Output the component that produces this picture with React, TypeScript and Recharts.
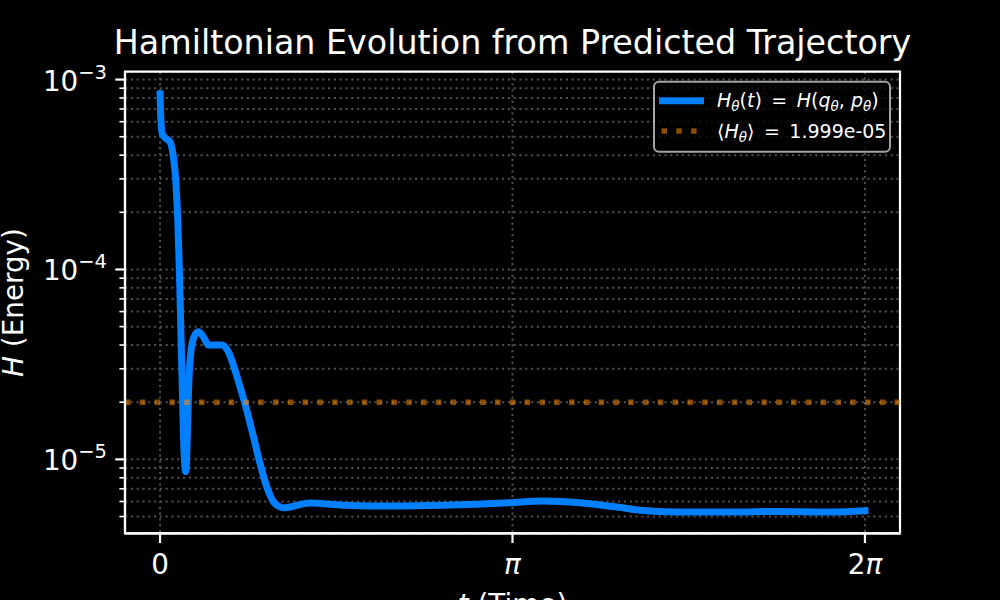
import React from 'react';
import {
  LineChart,
  Line,
  XAxis,
  YAxis,
  CartesianGrid,
  ReferenceLine,
  ReferenceArea,
  Customized,
} from 'recharts';

// ---- data ----
const timeValues = [
  0, 0.006, 0.021, 0.053, 0.089, 0.119, 0.14, 0.158, 0.172, 0.187, 0.202, 0.214,
  0.229, 0.243, 0.255, 0.273, 0.303, 0.341, 0.386, 0.431, 0.49, 0.55, 0.609, 0.668,
  0.713, 0.772, 0.832, 0.891, 0.951, 1.01, 1.07, 1.1, 1.337, 1.634, 2.079, 2.525,
  2.823, 3.119, 3.416, 3.743, 4.04, 4.338, 4.635, 5.08, 5.526, 5.971, 6.283,
];
const energyValues = [
  8.4e-4, 6.4e-4, 5.15e-4, 4.89e-4, 4.7e-4, 3.92e-4, 2.95e-4, 1.82e-4, 1.0e-4, 4.42e-5,
  1.97e-5, 1.08e-5, 8.61e-6, 1.32e-5, 2.41e-5, 3.61e-5, 4.42e-5, 4.7e-5, 4.42e-5, 4.0e-5,
  4.0e-5, 4.0e-5, 3.68e-5, 2.95e-5, 2.41e-5, 1.82e-5, 1.32e-5, 9.53e-6, 7.18e-6, 5.98e-6,
  5.62e-6, 5.56e-6, 5.9e-6, 5.74e-6, 5.68e-6, 5.73e-6, 5.8e-6, 5.91e-6, 6.04e-6, 5.91e-6,
  5.64e-6, 5.36e-6, 5.28e-6, 5.28e-6, 5.32e-6, 5.28e-6, 5.36e-6,
];
const meanEnergy = 1.999e-5;
const meanLabel = '1.999e-05';

const xTicks = [0, Math.PI, 2 * Math.PI];
const xTickLabels = [
  [{ t: '0', it: false }],
  [{ t: 'π', it: true }],
  [
    { t: '2', it: false },
    { t: 'π', it: true },
  ],
];
const yMajorTicks = [1e-5, 1e-4, 1e-3];
const yMajorExponents = ['−5', '−4', '−3'];
const yMinorTicks = [
  5e-6, 6e-6, 7e-6, 8e-6, 9e-6,
  2e-5, 3e-5, 4e-5, 5e-5, 6e-5, 7e-5, 8e-5, 9e-5,
  2e-4, 3e-4, 4e-4, 5e-4, 6e-4, 7e-4, 8e-4, 9e-4,
];
const xDomain = [-0.3124, 6.5956];
const yDomain = [4.08e-6, 1.1e-3];

const data = timeValues.map((t, i) => ({ t, H: energyValues[i] }));

// ---- styles ----
const FONT = '"DejaVu Sans", sans-serif';
const BLUE = '#007fff';
const ORANGE = '#ff8c00';
const GRID = '#4d4d4d';
const WHITE = '#ffffff';

const isMajor = (v: number) => yMajorTicks.findIndex((m) => Math.abs(m - v) / m < 1e-6);

const YTick = (props: any) => {
  const { x, y, payload } = props;
  const idx = isMajor(payload.value);
  if (idx >= 0) {
    return (
      <g>
        <line x1={x - 9.7} x2={x} y1={y} y2={y} stroke={WHITE} strokeWidth={2.2} />
        <text x={x - 18} y={y + 11} textAnchor="end" fill={WHITE} fontFamily={FONT} fontSize={27.8}>
          <tspan>10</tspan>
          <tspan dy={-12} fontSize={19.5}>
            {yMajorExponents[idx]}
          </tspan>
        </text>
      </g>
    );
  }
  return <line x1={x - 5.6} x2={x} y1={y} y2={y} stroke={WHITE} strokeWidth={1.6} />;
};

const XTick = (props: any) => {
  const { x, y, payload, index } = props;
  let i = xTicks.findIndex((v) => Math.abs(v - payload.value) < 1e-6);
  if (i < 0) i = index;
  const parts = xTickLabels[i] || [];
  return (
    <text x={x} y={y + 31} textAnchor="middle" fill={WHITE} fontFamily={FONT} fontSize={27.8}>
      {parts.map((p, k) => (
        <tspan key={k} fontStyle={p.it ? 'italic' : 'normal'}>
          {p.t}
        </tspan>
      ))}
    </text>
  );
};

const Overlay = () => {
  const lx = 654;
  const ly = 81.7;
  return (
    <g fontFamily={FONT}>
      <text x={512.5} y={54.3} textAnchor="middle" fill={WHITE} fontSize={33.3}>
        Hamiltonian Evolution from Predicted Trajectory
      </text>
      <text
        transform="translate(22.5, 302.5) rotate(-90)"
        textAnchor="middle"
        fill={WHITE}
        fontSize={27.8}
      >
        <tspan fontStyle="italic">H</tspan>
        <tspan> (Energy)</tspan>
      </text>
      <text x={512.5} y={614} textAnchor="middle" fill={WHITE} fontSize={27.8}>
        <tspan fontStyle="italic">t</tspan>
        <tspan> (Time)</tspan>
      </text>
      {/* legend */}
      <rect
        x={lx}
        y={ly}
        width={236}
        height={70}
        rx={5}
        ry={5}
        fill="rgba(0,0,0,0.8)"
        stroke="#cccccc"
        strokeOpacity={0.8}
        strokeWidth={2}
      />
      <line x1={659} x2={704} y1={100.7} y2={100.7} stroke={BLUE} strokeWidth={7} />
      <text x={717} y={107} fill={WHITE} fontSize={19}>
        <tspan fontStyle="italic">H</tspan>
        <tspan fontStyle="italic" fontSize={13.5} dy={4}>θ</tspan>
        <tspan dy={-4}>(</tspan>
        <tspan fontStyle="italic">t</tspan>
        <tspan>){'\u2002'}={'\u2002'}</tspan>
        <tspan fontStyle="italic">H</tspan>
        <tspan>(</tspan>
        <tspan fontStyle="italic">q</tspan>
        <tspan fontStyle="italic" fontSize={13.5} dy={4}>θ</tspan>
        <tspan dy={-4}>, </tspan>
        <tspan fontStyle="italic">p</tspan>
        <tspan fontStyle="italic" fontSize={13.5} dy={4}>θ</tspan>
        <tspan dy={-4}>)</tspan>
      </text>
      <line
        x1={661.5}
        x2={704}
        y1={131}
        y2={131}
        stroke={ORANGE}
        strokeOpacity={0.55}
        strokeWidth={5.5}
        strokeDasharray="5.5 9.3"
      />
      <text x={717} y={137.5} fill={WHITE} fontSize={19}>
        <tspan>⟨</tspan>
        <tspan fontStyle="italic">H</tspan>
        <tspan fontStyle="italic" fontSize={13.5} dy={4}>θ</tspan>
        <tspan dy={-4}>⟩{'\u2002'}={'\u2002'}</tspan>
        <tspan>{meanLabel}</tspan>
      </text>
    </g>
  );
};

export default function App() {
  return (
    <div
      style={{
        position: 'fixed',
        left: 0,
        top: 0,
        width: 1000,
        height: 600,
        background: '#000',
        overflow: 'hidden',
      }}
    >
      <LineChart
        width={1000}
        height={600}
        data={data}
        margin={{ top: 71.7, right: 100, bottom: 0, left: 0 }}
      >
        <CartesianGrid
          stroke={GRID}
          strokeWidth={2}
          strokeDasharray="2.2 3.6"
          horizontal={true}
          vertical={true}
        />
        <XAxis
          type="number"
          dataKey="t"
          domain={xDomain}
          allowDataOverflow
          ticks={xTicks}
          interval={0}
          height={66.7}
          tickSize={9.7}
          tickMargin={0}
          axisLine={{ stroke: WHITE, strokeWidth: 2.2 }}
          tickLine={{ stroke: WHITE, strokeWidth: 2.2 }}
          tick={<XTick />}
        />
        <YAxis
          type="number"
          scale="log"
          domain={yDomain}
          allowDataOverflow
          ticks={[...yMinorTicks, ...yMajorTicks]}
          interval={0}
          width={125}
          tickSize={0}
          tickMargin={0}
          axisLine={{ stroke: WHITE, strokeWidth: 2.2 }}
          tickLine={false}
          tick={<YTick />}
        />
        <Line
          type="monotone"
          dataKey="H"
          stroke={BLUE}
          strokeWidth={7}
          strokeLinecap="square"
          dot={false}
          activeDot={false}
          isAnimationActive={false}
        />
        <ReferenceLine
          y={meanEnergy}
          stroke={ORANGE}
          strokeOpacity={0.55}
          strokeWidth={5.5}
          strokeDasharray="5.5 9.3"
        />
        <ReferenceArea
          x1={xDomain[0]}
          x2={xDomain[1]}
          y1={yDomain[0]}
          y2={yDomain[1]}
          fill="none"
          fillOpacity={0}
          stroke={WHITE}
          strokeWidth={2.2}
          ifOverflow="visible"
        />
        <Customized component={Overlay} />
      </LineChart>
    </div>
  );
}
